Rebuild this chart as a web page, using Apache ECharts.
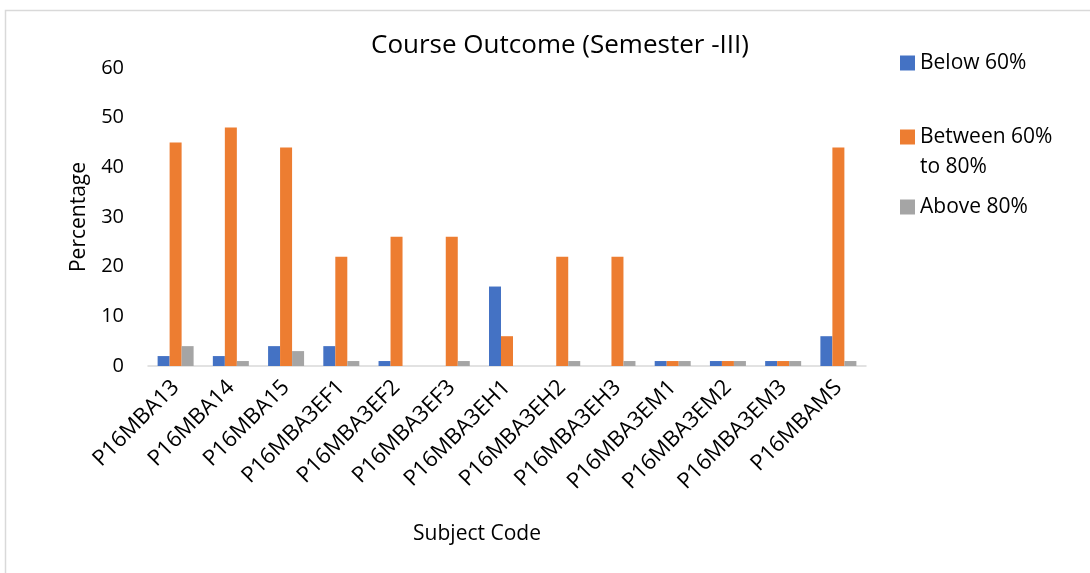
<!DOCTYPE html>
<html><head><meta charset="utf-8">
<script src="https://cdn.jsdelivr.net/npm/echarts@6/dist/echarts.min.js"></script>
<style>html,body{margin:0;padding:0;background:#fff}#c{width:1090px;height:573px}</style>
</head><body><div id="c"></div>
<script>
const categories = ['P16MBA13','P16MBA14','P16MBA15','P16MBA3EF1','P16MBA3EF2','P16MBA3EF3','P16MBA3EH1','P16MBA3EH2','P16MBA3EH3','P16MBA3EM1','P16MBA3EM2','P16MBA3EM3','P16MBAMS'];
const below60 = [2,2,4,4,1,0,16,0,0,1,1,1,6];
const between60to80 = [45,48,44,22,26,26,6,22,22,1,1,1,44];
const above80 = [4,1,3,1,0,1,0,1,1,1,1,1,1];
const seriesNames = ['Below 60%','Between 60% to 80%','Above 80%'];
const colors = ['#4472C4','#ED7D31','#A5A5A5'];
const yTicks = {min:0, max:60, interval:10};

const font = '"Open Sans", sans-serif';
const chart = echarts.init(document.getElementById('c'));
const legendBase = {
  orient:'vertical', left:895, itemWidth:15, itemHeight:15, itemGap:10,
  icon:'rect', textStyle:{fontFamily:font, fontSize:21, color:'#000', lineHeight:30}
};
chart.setOption({
  animation:false,
  color: colors,
  graphic:[{type:'rect', left:3, top:8, shape:{width:1100, height:600}, style:{fill:'none', stroke:'#d9d9d9', lineWidth:1.5}, silent:true}],
  title:{text:'Course Outcome (Semester -III)', left:555, textAlign:'center', top:28,
    textStyle:{fontFamily:font, fontSize:26, fontWeight:'normal', color:'#000'}},
  legend:[
    Object.assign({}, legendBase, {top:43, data:[seriesNames[0]]}),
    Object.assign({}, legendBase, {top:87, data:[seriesNames[1]], formatter:()=>'\nBetween 60%\nto 80%'}),
    Object.assign({}, legendBase, {top:187, data:[seriesNames[2]]})
  ],
  grid:{left:148, right:224, top:68, bottom:207},
  xAxis:{type:'category', data:categories, name:'Subject Code', nameLocation:'middle', nameGap:158,
    nameTextStyle:{fontFamily:font, fontSize:21, color:'#000', padding:[0,60,0,0]},
    axisLine:{lineStyle:{color:'#d9d9d9', width:1.5}}, axisTick:{show:false},
    axisLabel:{rotate:45, interval:0, fontFamily:font, fontSize:22, color:'#000', margin:18}},
  yAxis:{type:'value', min:yTicks.min, max:yTicks.max, interval:yTicks.interval,
    name:'Percentage', nameLocation:'middle', nameGap:58,
    nameTextStyle:{fontFamily:font, fontSize:21, color:'#000'},
    splitLine:{show:false}, axisLine:{show:false}, axisTick:{show:false},
    axisLabel:{fontFamily:font, fontSize:20, color:'#000', margin:24}},
  series:[
    {name:seriesNames[0], type:'bar', data:below60, barWidth:12, barGap:'0%'},
    {name:seriesNames[1], type:'bar', data:between60to80, barWidth:12, barGap:'0%'},
    {name:seriesNames[2], type:'bar', data:above80, barWidth:12, barGap:'0%'}
  ]
});
</script></body></html>
